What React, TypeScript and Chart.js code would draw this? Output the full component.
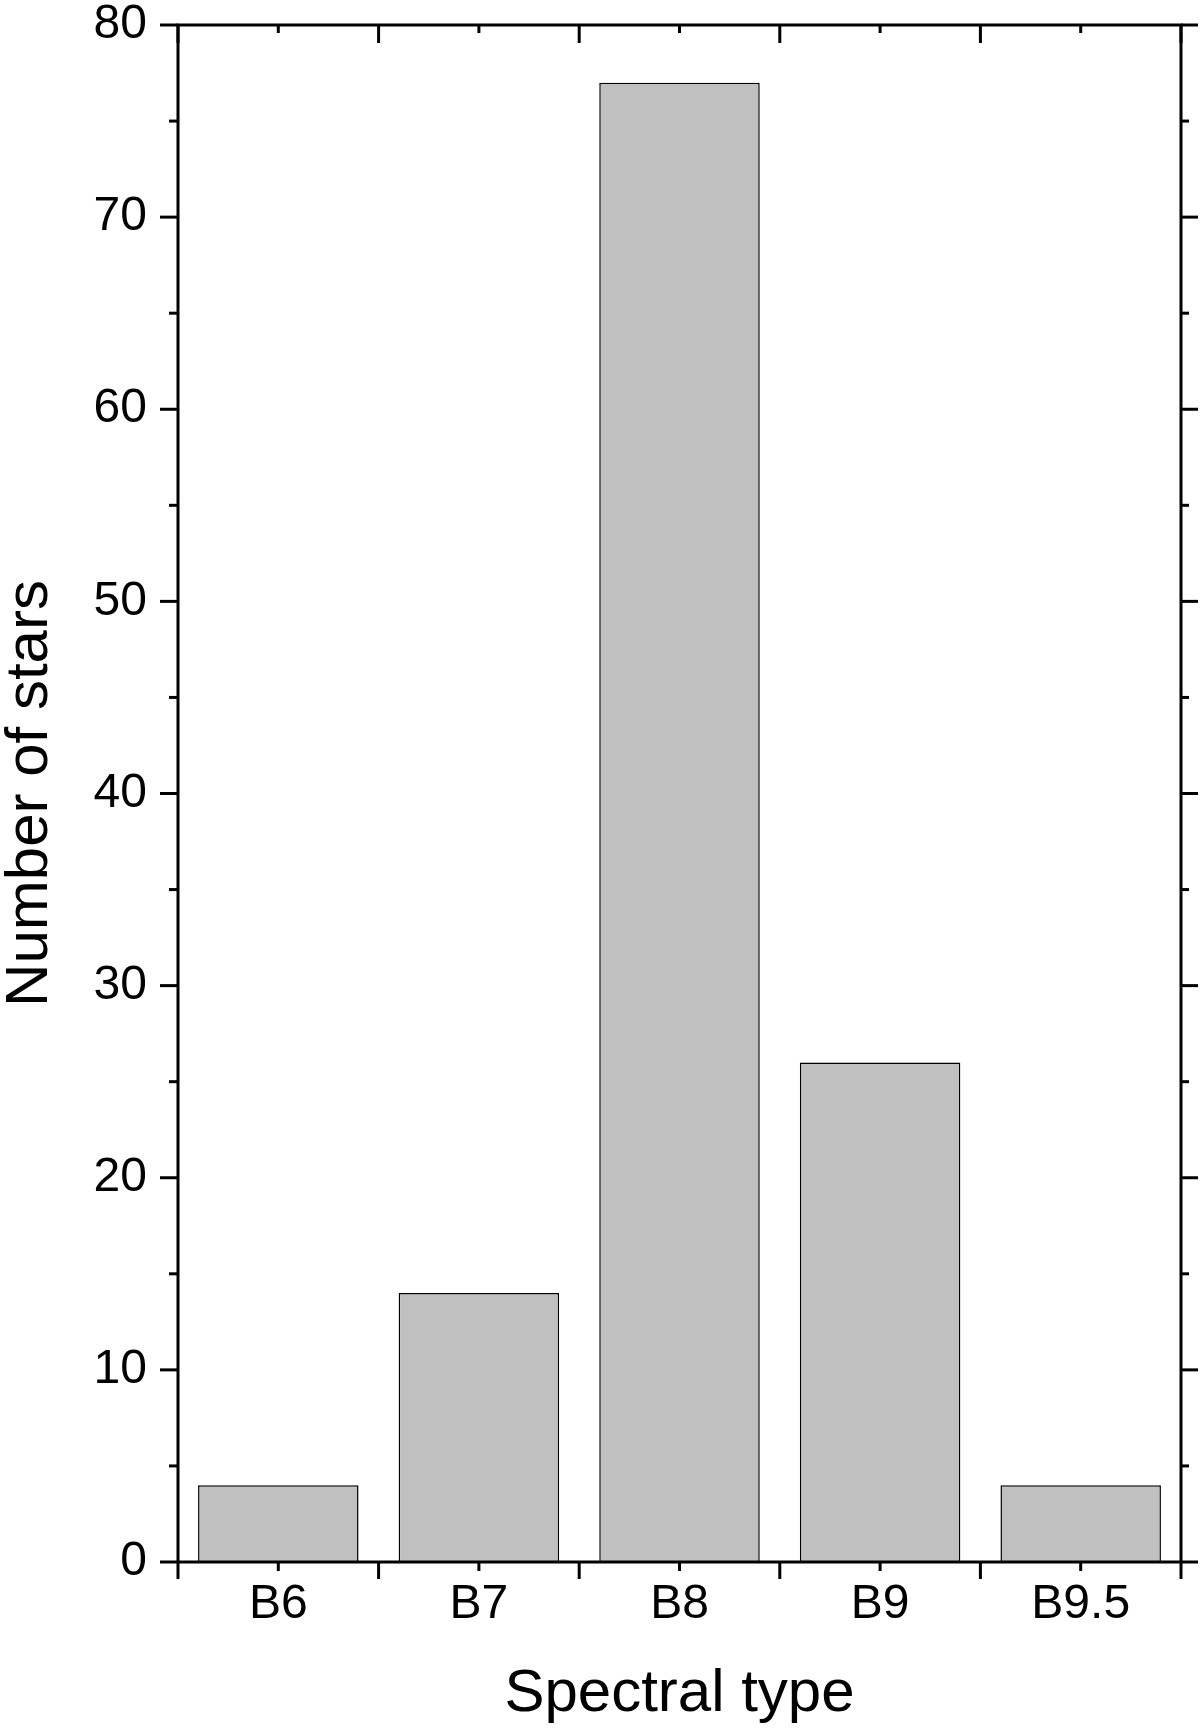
import React, { useEffect, useRef } from "react";
import { Chart, registerables } from "chart.js";

Chart.register(...registerables);

const categories: string[] = ["B6", "B7", "B8", "B9", "B9.5"];
const starCounts: number[] = [4, 14, 77, 26, 4];
const yMin = 0;
const yMax = 80;
const yMajorStep = 10;
const yMinorStep = 5;
const xTitle = "Spectral type";
const yTitle = "Number of stars";

const FONT = "'Liberation Sans', Arial, Helvetica, sans-serif";

const frameTicksPlugin = {
  id: "frameTicks",
  afterDraw(chart: any) {
    const ctx = chart.ctx;
    const xs = chart.scales.x;
    const ys = chart.scales.y;
    const { left, right, top, bottom } = chart.chartArea;
    ctx.save();
    ctx.strokeStyle = "#000";
    ctx.lineWidth = 3;
    ctx.lineCap = "butt";
    const line = (x1: number, y1: number, x2: number, y2: number) => {
      ctx.beginPath();
      ctx.moveTo(x1, y1);
      ctx.lineTo(x2, y2);
      ctx.stroke();
    };
    ctx.beginPath();
    ctx.rect(left, top, right - left, bottom - top);
    ctx.stroke();
    const n = categories.length;
    for (let i = 0; i <= n; i++) {
      const px = xs.getPixelForValue(i - 0.5);
      line(px, bottom, px, bottom + 17);
      line(px, top, px, top + 18);
    }
    for (let i = 0; i < n; i++) {
      const px = xs.getPixelForValue(i);
      line(px, bottom, px, bottom + 9);
      line(px, top, px, top + 8);
    }
    for (let v = yMin; v <= yMax; v += yMinorStep) {
      const py = ys.getPixelForValue(v);
      const major = v % yMajorStep === 0;
      line(left, py, left - (major ? 18 : 9), py);
      line(right, py, right + (major ? 17 : 8), py);
    }
    ctx.restore();
  },
};

export default function App() {
  const canvasRef = useRef<HTMLCanvasElement | null>(null);

  useEffect(() => {
    if (!canvasRef.current) return;
    const chart = new Chart(canvasRef.current, {
      type: "bar",
      data: {
        labels: categories,
        datasets: [
          {
            data: starCounts,
            backgroundColor: "#c0c0c0",
            borderColor: "#000",
            borderWidth: 1.5,
            barPercentage: 0.8,
            categoryPercentage: 1.0,
          },
        ],
      },
      options: {
        responsive: false,
        animation: false,
        devicePixelRatio: 1,
        layout: { padding: { left: 0, right: 19, top: 25, bottom: 0 } },
        plugins: {
          legend: { display: false },
          tooltip: { enabled: false },
        },
        scales: {
          x: {
            type: "category",
            offset: true,
            grid: { display: false, drawTicks: false },
            border: { display: false },
            ticks: {
              color: "#000",
              padding: 14,
              font: { family: FONT, size: 48 },
              maxRotation: 0,
            },
            title: {
              display: true,
              text: xTitle,
              color: "#000",
              font: { family: FONT, size: 60, lineHeight: 1 },
              padding: { top: 0, bottom: 12 },
            },
            afterFit(scale: any) {
              scale.height = 174;
              scale.paddingLeft = 0;
              scale.paddingRight = 0;
            },
          },
          y: {
            min: yMin,
            max: yMax,
            grid: { display: false, drawTicks: false },
            border: { display: false },
            ticks: {
              stepSize: yMajorStep,
              color: "#000",
              padding: 31,
              font: { family: FONT, size: 48 },
            },
            title: {
              display: true,
              text: yTitle,
              color: "#000",
              font: { family: FONT, size: 60, lineHeight: 1 },
              padding: { top: 0, bottom: 0 },
            },
            afterFit(scale: any) {
              scale.width = 178;
              scale.paddingTop = 0;
              scale.paddingBottom = 0;
            },
          },
        },
      },
      plugins: [frameTicksPlugin],
    } as any);
    return () => chart.destroy();
  }, []);

  return (
    <div style={{ position: "absolute", left: 0, top: 0, width: 1200, height: 1736, background: "#fff" }}>
      <canvas ref={canvasRef} width={1200} height={1736} style={{ display: "block", width: 1200, height: 1736 }} />
    </div>
  );
}
